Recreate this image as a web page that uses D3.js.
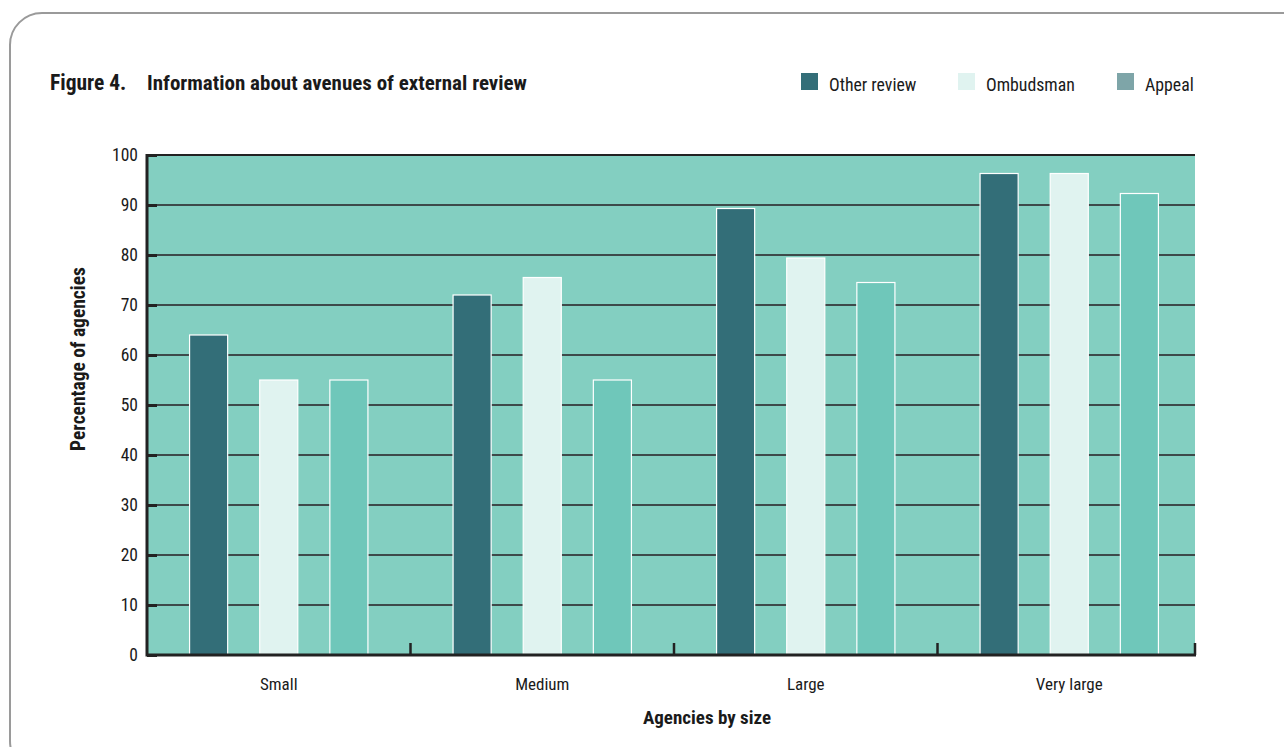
<!DOCTYPE html>
<html>
<head>
<meta charset="utf-8">
<script src="https://cdn.jsdelivr.net/npm/d3@7"></script>
<style>
  html, body { margin: 0; padding: 0; background: #fff; }
  svg { display: block; }
  text { font-family: "Liberation Sans Narrow", "Arial Narrow", "Roboto Condensed", sans-serif; fill: #1a1a1a; }
</style>
</head>
<body>
<svg id="chart" width="1284" height="747"></svg>
<script>
// Agency size groups and the three avenues of external review (percent of agencies)
const categories = ["Small", "Medium", "Large", "Very large"];
const seriesNames = ["Other review", "Ombudsman", "Appeal"];
const otherReview = [64, 72, 89.3, 96.3];
const ombudsman = [55, 75.5, 79.4, 96.3];
const appeal = [55, 55, 74.5, 92.3];
const yTicks = [0, 10, 20, 30, 40, 50, 60, 70, 80, 90, 100];

const seriesValues = [otherReview, ombudsman, appeal];
const barColors = ["#336e78", "#e0f3f0", "#6fc7ba"];
const legendColors = ["#336e78", "#e0f3f0", "#7ea5a8"];

const svg = d3.select("#chart");

// rounded frame around the figure
svg.append("rect")
  .attr("x", 10).attr("y", 13)
  .attr("width", 1310).attr("height", 760)
  .attr("rx", 32).attr("ry", 32)
  .attr("fill", "none").attr("stroke", "#9a9a9a").attr("stroke-width", 2);

// title
svg.append("text").attr("x", 50).attr("y", 90)
  .attr("font-size", 21.5).attr("font-weight", "bold").text("Figure 4.");
svg.append("text").attr("x", 147).attr("y", 90)
  .attr("font-size", 21).attr("font-weight", "bold")
  .text("Information about avenues of external review");

// legend
const legendX = [801, 958, 1117];
const legend = svg.append("g");
seriesNames.forEach((name, i) => {
  legend.append("rect").attr("x", legendX[i]).attr("y", 73)
    .attr("width", 17).attr("height", 17).attr("fill", legendColors[i]);
  legend.append("text").attr("x", legendX[i] + 28).attr("y", 91)
    .attr("font-size", 17.8).text(name);
});

const plot = { left: 147, right: 1195, top: 155, bottom: 655 };

// category bands run a little past the shaded area on the right
const x0 = d3.scaleBand().domain(categories)
  .range([plot.left, 1201]).paddingInner(0).paddingOuter(0);
const x1 = d3.scaleBand().domain(seriesNames)
  .range([0, x0.bandwidth()]).paddingInner(0.457).paddingOuter(0.607);
const y = d3.scaleLinear().domain([0, 100]).range([plot.bottom, plot.top]);

// plot background
svg.append("rect")
  .attr("x", plot.left).attr("y", plot.top)
  .attr("width", plot.right - plot.left).attr("height", plot.bottom - plot.top)
  .attr("fill", "#83cfc1");

// horizontal gridlines
svg.append("g").selectAll("line").data(yTicks.filter(t => t > 0)).join("line")
  .attr("x1", plot.left).attr("x2", plot.right)
  .attr("y1", d => y(d)).attr("y2", d => y(d))
  .attr("stroke", d => d === 100 ? "#222" : "#3d4a4a").attr("stroke-width", 2);

// bars
const groups = svg.append("g").selectAll("g").data(categories).join("g")
  .attr("transform", d => `translate(${x0(d)},0)`);
groups.selectAll("rect")
  .data((d, ci) => seriesNames.map((s, si) => ({ s, si, v: seriesValues[si][ci] })))
  .join("rect")
  .attr("x", d => x1(d.s))
  .attr("width", x1.bandwidth())
  .attr("y", d => y(d.v))
  .attr("height", d => y(0) - y(d.v))
  .attr("fill", d => barColors[d.si])
  .attr("stroke", "#ffffff").attr("stroke-width", 1.2);

// y axis
const yAxis = d3.axisRight(y).tickValues(yTicks).tickSize(10).tickFormat("");
const yg = svg.append("g").attr("transform", `translate(${plot.left},0)`).call(yAxis);
yg.select(".domain").remove();
yg.selectAll(".tick line").attr("stroke", "#222").attr("stroke-width", 3);
svg.append("line")
  .attr("x1", plot.left).attr("x2", plot.left)
  .attr("y1", plot.top - 1).attr("y2", plot.bottom + 1.5)
  .attr("stroke", "#222").attr("stroke-width", 3);
svg.append("g").selectAll("text").data(yTicks).join("text")
  .attr("x", 138).attr("y", d => y(d) + 6)
  .attr("text-anchor", "end").attr("font-size", 17.5)
  .text(d => d);

// x axis baseline and category separators
svg.append("line")
  .attr("x1", plot.left).attr("x2", plot.right + 1)
  .attr("y1", plot.bottom).attr("y2", plot.bottom)
  .attr("stroke", "#222").attr("stroke-width", 3);
const separators = categories.slice(1).map(c => x0(c)).concat([plot.right]);
svg.append("g").selectAll("line").data(separators).join("line")
  .attr("x1", d => d).attr("x2", d => d)
  .attr("y1", plot.bottom).attr("y2", plot.bottom - 12)
  .attr("stroke", "#222").attr("stroke-width", 2.5);
svg.append("g").selectAll("text").data(categories).join("text")
  .attr("x", d => x0(d) + x0.bandwidth() / 2).attr("y", 690)
  .attr("text-anchor", "middle").attr("font-size", 17)
  .text(d => d);

// axis titles
svg.append("text").attr("x", 707).attr("y", 724)
  .attr("text-anchor", "middle").attr("font-size", 19).attr("font-weight", "bold")
  .text("Agencies by size");
svg.append("text")
  .attr("transform", "translate(85,359) rotate(-90)")
  .attr("text-anchor", "middle").attr("font-size", 19.5).attr("font-weight", "bold")
  .text("Percentage of agencies");
</script>
</body>
</html>
